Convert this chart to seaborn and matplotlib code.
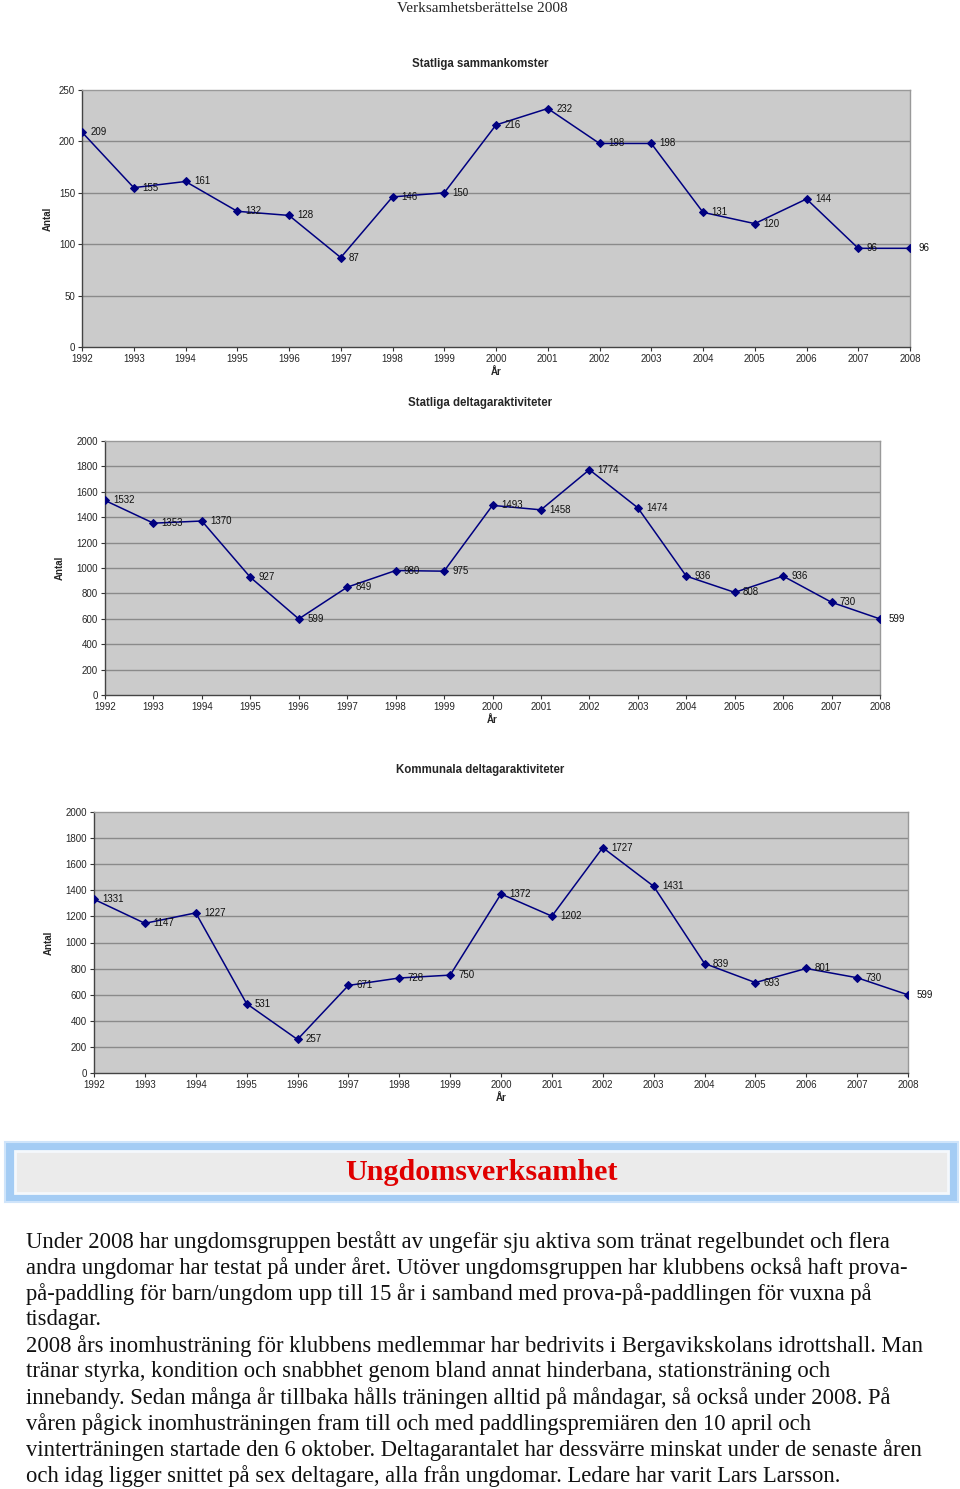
import matplotlib
matplotlib.use("Agg")
import matplotlib.pyplot as plt
import seaborn as sns
import pandas as pd
from matplotlib.patches import Rectangle

years = list(range(1992, 2009))
statliga_sammankomster = [209, 155, 161, 132, 128, 87, 146, 150, 216, 232, 198, 198, 131, 120, 144, 96, 96]
statliga_deltagare = [1532, 1353, 1370, 927, 599, 849, 980, 975, 1493, 1458, 1774, 1474, 936, 808, 936, 730, 599]
kommunala_deltagare = [1331, 1147, 1227, 531, 257, 671, 728, 750, 1372, 1202, 1727, 1431, 839, 693, 801, 730, 599]

paragraph = [
    "Under 2008 har ungdomsgruppen bestått av ungefär sju aktiva som tränat regelbundet och flera",
    "andra ungdomar har testat på under året. Utöver ungdomsgruppen har klubbens också haft prova-",
    "på-paddling för barn/ungdom upp till 15 år i samband med prova-på-paddlingen för vuxna på",
    "tisdagar.",
    "2008 års inomhusträning för klubbens medlemmar har bedrivits i Bergavikskolans idrottshall. Man",
    "tränar styrka, kondition och snabbhet genom bland annat hinderbana, stationsträning och",
    "innebandy. Sedan många år tillbaka hålls träningen alltid på måndagar, så också under 2008. På",
    "våren pågick inomhusträningen fram till och med paddlingspremiären den 10 april och",
    "vinterträningen startade den 6 oktober. Deltagarantalet har dessvärre minskat under de senaste åren",
    "och idag ligger snittet på sex deltagare, alla från ungdomar. Ledare har varit Lars Larsson.",
]

sns.set_style("white")
plt.rcParams['font.family'] = ['Liberation Sans', 'DejaVu Sans']

W, H = 960, 1489
fig = plt.figure(figsize=(W / 100, H / 100), dpi=100)


def px_box(x0, y0, x1, y1):
    # pixel box -> figure fraction [left, bottom, width, height]
    return [x0 / W, 1 - y1 / H, (x1 - x0) / W, (y1 - y0) / H]


def draw_chart(rect, values, title, ymax, ystep, title_y, ylab_x):
    ax = fig.add_axes(rect)
    df = pd.DataFrame({"year": years, "value": values})
    ax.set_facecolor("#cbcbcb")
    for v in range(ystep, ymax, ystep):
        ax.axhline(v, color="#8a8a8a", lw=1, zorder=1)
    sns.lineplot(data=df, x="year", y="value", ax=ax, color="#000080", lw=1.1,
                 marker="D", markersize=3.6, markeredgecolor="#000080", zorder=3)
    for x, y in zip(years, values):
        ax.annotate(str(y), (x, y), xytext=(6, 0), textcoords="offset points",
                    fontsize=7, va="center", ha="left", color="#111111", zorder=4)
    ax.set_xlim(1992, 2008)
    ax.set_ylim(0, ymax)
    ax.set_xticks(years)
    ax.set_yticks(range(0, ymax + 1, ystep))
    ax.tick_params(axis="both", labelsize=7, length=3, width=0.8, color="#333333",
                   direction="out", pad=2, left=True, bottom=True)
    ax.set_xlabel("År", fontsize=7, fontweight="bold", labelpad=2)
    ax.set_ylabel("")
    for side in ["top", "right"]:
        ax.spines[side].set_color("#999999")
        ax.spines[side].set_linewidth(1)
    for side in ["left", "bottom"]:
        ax.spines[side].set_color("#444444")
        ax.spines[side].set_linewidth(1)
    fig.text(0.5, 1 - title_y / H, title, fontsize=8.3, fontweight="bold",
             ha="center", va="center")
    mid = rect[1] + rect[3] / 2
    fig.text(ylab_x / W, mid, "Antal", fontsize=7, fontweight="bold",
             rotation=90, ha="center", va="center")
    return ax


draw_chart(px_box(82, 90, 910, 347), statliga_sammankomster,
           "Statliga sammankomster", 250, 50, 64, 48)
draw_chart(px_box(105, 441, 880, 695), statliga_deltagare,
           "Statliga deltagaraktiviteter", 2000, 200, 403, 60)
draw_chart(px_box(94, 812, 908, 1073), kommunala_deltagare,
           "Kommunala deltagaraktiviteter", 2000, 200, 770, 49)

# page header
fig.text(482 / W, 1 - 8 / H, "Verksamhetsberättelse 2008", fontsize=11,
         family="Liberation Serif", ha="center", va="center")

# banner
x0, y0, x1, y1 = px_box(5, 1142, 958, 1202)
fig.patches.append(Rectangle((x0, y0), x1, y1, transform=fig.transFigure,
                             facecolor="#a4ccf4", edgecolor="#cfe4fa", lw=1.5))
x0, y0, x1, y1 = px_box(15, 1151, 948, 1193)
fig.patches.append(Rectangle((x0, y0), x1, y1, transform=fig.transFigure,
                             facecolor="#ebebeb", edgecolor="#f4f8fc", lw=2))
fig.text(481 / W, 1 - 1173 / H, "Ungdomsverksamhet", fontsize=21.7,
         family="Liberation Serif", fontweight="bold", color="#e00000",
         ha="center", va="center")

# paragraph text
for i, line in enumerate(paragraph):
    fig.text(26 / W, 1 - (1242 + 26 * i) / H, line, fontsize=16.3,
             family="Liberation Serif", ha="left", va="center", color="#111111")

fig.savefig("out.png", dpi=100)
